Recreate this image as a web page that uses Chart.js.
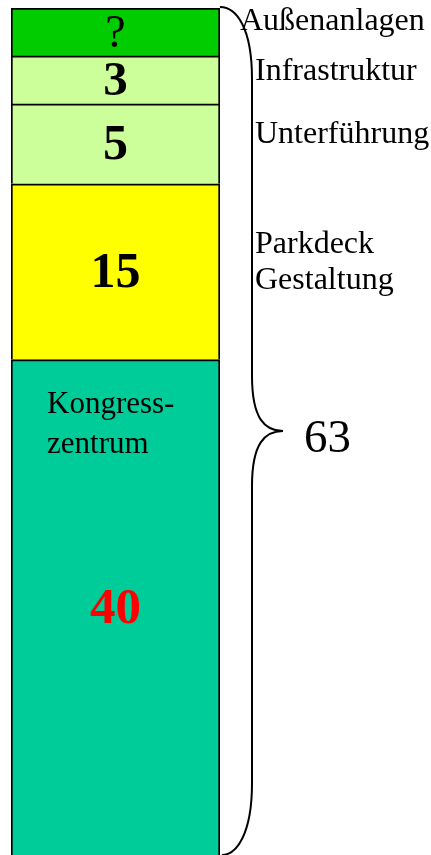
<!DOCTYPE html>
<html>
<head>
<meta charset="utf-8">
<style>
html,body{margin:0;padding:0;background:#fff;overflow:hidden}
canvas{display:block}
</style>
<script src="https://cdn.jsdelivr.net/npm/chart.js@4/dist/chart.umd.min.js"></script>
</head>
<body>
<canvas id="c" width="431" height="855"></canvas>
<script>
// ---- data (bottom segment first) ----
const categories = ['Gesamt'];
const segmentNames = ['Kongress-\nzentrum', 'Parkdeck\nGestaltung', 'Unterführung', 'Infrastruktur', 'Außenanlagen'];
const segmentValueLabels = ['40', '15', '5', '3', '?'];
// drawn (not-to-scale) segment heights as they appear in the picture
const segmentHeights = [31, 11, 5, 3, 3];
const totalLabel = '63';

// ---- styles ----
const segColors = ['#00CC99', '#FFFF00', '#CCFF99', '#CCFF99', '#00CC00'];
const valueFonts = ['bold 51px "Liberation Serif"', 'bold 50px "Liberation Serif"', 'bold 50px "Liberation Serif"', 'bold 49px "Liberation Serif"', '46px "Liberation Serif"'];
const valueColors = ['#FF0000', '#000', '#000', '#000', '#000'];
const valueShift = [3, 2, 2, 2, 3];
const nameFonts = ['31px "Liberation Serif"', '32px "Liberation Serif"', '32px "Liberation Serif"', '32px "Liberation Serif"', '32px "Liberation Serif"'];
const namePlace = [
  {dx: 47, dy: 53, gap: 40},
  {dx: 255, dy: 69, gap: 36},
  {dx: 255, dy: 39, gap: 36},
  {dx: 255, dy: 24, gap: 36},
  {dx: 240, dy: 22, gap: 36}
];

const labelPlugin = {
  id: 'labels',
  afterDatasetsDraw(chart) {
    const ctx = chart.ctx;
    const area = chart.chartArea;
    ctx.save();
    let barRight = 0, barTop = Infinity;
    chart.data.datasets.forEach((ds, i) => {
      const el = chart.getDatasetMeta(i).data[0];
      const top = el.y, bottom = Math.min(el.base, area.bottom);
      barRight = el.x + el.width / 2;
      barTop = Math.min(barTop, top);
      ctx.font = valueFonts[i];
      ctx.fillStyle = valueColors[i];
      ctx.textAlign = 'center';
      ctx.textBaseline = 'middle';
      ctx.fillText(segmentValueLabels[i], el.x, (top + bottom) / 2 + valueShift[i]);
      const p = namePlace[i];
      ctx.font = nameFonts[i];
      ctx.fillStyle = '#000';
      ctx.textAlign = 'left';
      ctx.textBaseline = 'alphabetic';
      segmentNames[i].split('\n').forEach((line, k) => {
        ctx.fillText(line, p.dx, top + p.dy + k * p.gap);
      });
    });
    // brace
    const x0 = barRight, x1 = barRight + 32, tipX = barRight + 63;
    const yTop = barTop - 1, yBot = area.bottom;
    const yMid = (yTop + yBot) / 2;
    ctx.strokeStyle = '#000';
    ctx.lineWidth = 2;
    ctx.beginPath();
    ctx.moveTo(x0, yTop);
    ctx.bezierCurveTo(x0 + 16, yTop, x1, yTop + 20, x1, yTop + 72);
    ctx.lineTo(x1, yMid - 55);
    ctx.bezierCurveTo(x1, yMid - 12, x1 + 13, yMid, tipX, yMid);
    ctx.bezierCurveTo(x1 + 13, yMid, x1, yMid + 12, x1, yMid + 55);
    ctx.lineTo(x1, yBot - 72);
    ctx.bezierCurveTo(x1, yBot - 20, x0 + 16, yBot, x0 + 2, yBot);
    ctx.stroke();
    // total
    ctx.font = '47px "Liberation Serif"';
    ctx.fillStyle = '#000';
    ctx.textAlign = 'left';
    ctx.textBaseline = 'alphabetic';
    ctx.fillText(totalLabel, tipX + 21, yMid + 21);
    ctx.restore();
  }
};

new Chart(document.getElementById('c'), {
  type: 'bar',
  data: {
    labels: categories,
    datasets: segmentHeights.map((h, i) => ({
      label: segmentNames[i],
      data: [h],
      backgroundColor: segColors[i],
      borderColor: '#000',
      borderWidth: 2,
      borderSkipped: 'bottom',
      barPercentage: 1,
      categoryPercentage: 1
    }))
  },
  options: {
    responsive: false,
    animation: false,
    devicePixelRatio: 1,
    layout: {padding: {left: 11, right: 211, top: 8, bottom: 0}},
    plugins: {legend: {display: false}, tooltip: {enabled: false}, title: {display: false}},
    scales: {
      x: {stacked: true, display: false},
      y: {stacked: true, display: false, min: 0, max: 53}
    }
  },
  plugins: [labelPlugin]
});
</script>
</body>
</html>
